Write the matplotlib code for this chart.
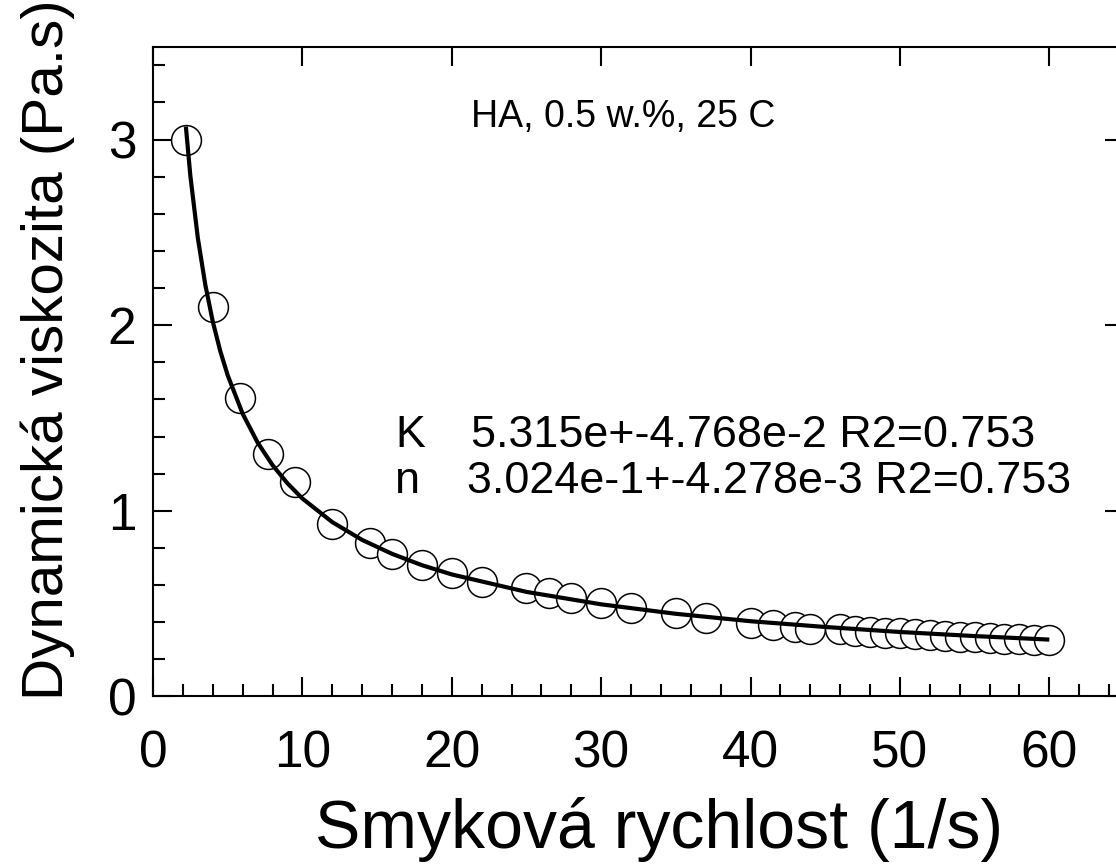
import matplotlib
matplotlib.use("Agg")
import matplotlib.pyplot as plt
from matplotlib.ticker import MultipleLocator, FixedLocator

plt.rcParams['font.family'] = ['Liberation Sans', 'DejaVu Sans']

# measured points
shear_rate = [2.2, 4.0, 5.8, 7.7, 9.5, 12.0, 14.5, 16.0, 18.0, 20.0, 22.0, 25.0,
              26.5, 28.0, 30.0, 32.0, 35.0, 37.0, 40.0, 41.5, 43.0, 44.0,
              46, 47, 48, 49, 50, 51, 52, 53, 54, 55, 56, 57, 58, 59, 60]
viscosity = [3.00, 2.10, 1.605, 1.305, 1.156, 0.927, 0.828, 0.765, 0.706, 0.666, 0.616, 0.585,
             0.555, 0.528, 0.505, 0.474, 0.447, 0.424, 0.397, 0.384, 0.375, 0.364,
             0.361, 0.354, 0.348, 0.343, 0.340, 0.334, 0.331, 0.327, 0.321, 0.318,
             0.314, 0.311, 0.307, 0.305, 0.304]

# fitted curve
fit_x = [2.2, 2.5, 3.0, 3.5, 4.0, 4.5, 5.0, 6.0, 7.0, 8.0, 9.0, 10.0, 12.0, 14.0,
         16.0, 18.0, 20.0, 25.0, 30.0, 35.0, 40.0, 45.0, 50.0, 55.0, 60.0]
fit_y = [3.07, 2.805, 2.47, 2.218, 2.02, 1.861, 1.73, 1.523, 1.368, 1.246, 1.148, 1.066,
         0.939, 0.843, 0.768, 0.707, 0.657, 0.563, 0.496, 0.445, 0.405, 0.374, 0.347,
         0.325, 0.306]

x_ticks = [0, 10, 20, 30, 40, 50, 60]
y_ticks = [0, 1, 2, 3]

title_text = "HA, 0.5 w.%, 25 C"
param_names = ["K", "n"]
param_values = ["5.315e+-4.768e-2 R2=0.753", "3.024e-1+-4.278e-3 R2=0.753"]

fig = plt.figure(figsize=(11.16, 8.68), dpi=100)
ax = fig.add_axes([153/1116, (868-696.4)/868, (1124-153)/1116, (696.4-46.7)/868])

ax.plot(shear_rate, viscosity, linestyle='none', marker='o', markersize=21.5,
        markerfacecolor='white', markeredgecolor='black', markeredgewidth=1.1, zorder=2)
ax.plot(fit_x, fit_y, color='black', linewidth=3.0, zorder=3, solid_capstyle='butt')

ax.set_xlim(0, 65)
ax.set_ylim(0, 3.5)

ax.xaxis.set_major_locator(FixedLocator(x_ticks))
ax.yaxis.set_major_locator(FixedLocator(y_ticks))
ax.xaxis.set_minor_locator(MultipleLocator(2))
ax.yaxis.set_minor_locator(MultipleLocator(0.2))

for s in ax.spines.values():
    s.set_linewidth(1.5)

ax.tick_params(which='major', direction='in', length=14, width=1.5,
               top=True, right=True, labelsize=37)
ax.tick_params(which='minor', direction='in', length=8.5, width=1.5,
               top=False, right=False)
ax.tick_params(axis='x', which='major', pad=24)
ax.tick_params(axis='y', which='major', pad=12)

ax.set_xlabel("Smyková rychlost (1/s)", fontsize=49)
ax.xaxis.set_label_coords(0.521, -0.155)
ax.set_ylabel("Dynamická viskozita (Pa.s)", fontsize=42)
ax.yaxis.set_label_coords(-0.080, 0.533)

ax.text(21.3, 3.068, title_text, fontsize=27, ha='left', va='baseline')
ax.text(16.2, 1.345, param_names[0], fontsize=32.3, ha='left', va='baseline')
ax.text(21.3, 1.345, param_values[0], fontsize=32.3, ha='left', va='baseline')
ax.text(16.2, 1.095, param_names[1], fontsize=32.3, ha='left', va='baseline')
ax.text(21.0, 1.095, param_values[1], fontsize=32.3, ha='left', va='baseline')

fig.savefig("out.png", dpi=100)
